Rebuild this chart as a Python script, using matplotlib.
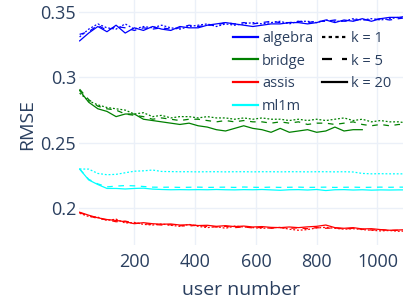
import matplotlib.pyplot as plt
from matplotlib.lines import Line2D

# user number grid (every 30 users)
users = [20, 50, 80, 110, 140, 170, 200, 230, 260, 290, 320, 350, 380, 410, 440, 470, 500, 530, 560,
         590, 620, 650, 680, 710, 740, 770, 800, 830, 860, 890, 920, 950, 980, 1010, 1040, 1070, 1100]
users_bridge20 = users[:32]  # bridge k=20 stops near 950

algebra_k1 = [0.331, 0.337, 0.341, 0.338, 0.337, 0.341, 0.337, 0.339, 0.338, 0.340, 0.338, 0.337, 0.339,
              0.340, 0.341, 0.339, 0.341, 0.340, 0.341, 0.342, 0.341, 0.342, 0.343, 0.341, 0.343, 0.343,
              0.342, 0.344, 0.343, 0.343, 0.345, 0.344, 0.345, 0.344, 0.345, 0.346, 0.345]
algebra_k5 = [0.333, 0.335, 0.340, 0.336, 0.339, 0.338, 0.336, 0.338, 0.337, 0.338, 0.337, 0.338, 0.340,
              0.339, 0.340, 0.340, 0.342, 0.341, 0.342, 0.341, 0.342, 0.343, 0.342, 0.342, 0.343, 0.342,
              0.343, 0.343, 0.344, 0.343, 0.344, 0.344, 0.344, 0.345, 0.344, 0.345, 0.346]
algebra_k20 = [0.328, 0.334, 0.339, 0.335, 0.340, 0.334, 0.338, 0.336, 0.339, 0.337, 0.336, 0.339, 0.338,
               0.338, 0.340, 0.341, 0.342, 0.341, 0.340, 0.339, 0.340, 0.341, 0.341, 0.342, 0.342, 0.341,
               0.342, 0.344, 0.342, 0.344, 0.343, 0.345, 0.343, 0.345, 0.346, 0.346, 0.347]

bridge_k1 = [0.288, 0.282, 0.279, 0.277, 0.276, 0.275, 0.272, 0.273, 0.270, 0.271, 0.269, 0.270, 0.270,
             0.269, 0.270, 0.269, 0.269, 0.268, 0.269, 0.268, 0.269, 0.268, 0.268, 0.267, 0.268, 0.267,
             0.268, 0.267, 0.268, 0.269, 0.267, 0.268, 0.266, 0.267, 0.266, 0.266, 0.265]
bridge_k5 = [0.291, 0.283, 0.278, 0.276, 0.275, 0.272, 0.271, 0.270, 0.268, 0.269, 0.268, 0.267, 0.268,
             0.268, 0.267, 0.266, 0.267, 0.266, 0.267, 0.266, 0.266, 0.265, 0.266, 0.265, 0.266, 0.264,
             0.265, 0.265, 0.264, 0.265, 0.266, 0.264, 0.263, 0.264, 0.263, 0.264, 0.264]
bridge_k20 = [0.290, 0.281, 0.276, 0.274, 0.270, 0.272, 0.272, 0.268, 0.267, 0.266, 0.265, 0.264, 0.265,
              0.263, 0.262, 0.260, 0.259, 0.261, 0.263, 0.261, 0.260, 0.258, 0.261, 0.258, 0.259, 0.260,
              0.258, 0.259, 0.262, 0.259, 0.260, 0.260]

assis_k1 = [0.1960, 0.1935, 0.1930, 0.1905, 0.1915, 0.1885, 0.1890, 0.1875, 0.1870, 0.1878, 0.1868, 0.1860,
            0.1875, 0.1860, 0.1850, 0.1858, 0.1845, 0.1862, 0.1855, 0.1850, 0.1845, 0.1848, 0.1852, 0.1838,
            0.1830, 0.1835, 0.1848, 0.1852, 0.1845, 0.1838, 0.1842, 0.1835, 0.1830, 0.1825, 0.1828, 0.1822,
            0.1825]
assis_k5 = [0.1965, 0.1940, 0.1920, 0.1910, 0.1895, 0.1900, 0.1885, 0.1880, 0.1875, 0.1870, 0.1872, 0.1865,
            0.1862, 0.1870, 0.1858, 0.1855, 0.1860, 0.1850, 0.1855, 0.1848, 0.1852, 0.1845, 0.1850, 0.1845,
            0.1848, 0.1842, 0.1850, 0.1845, 0.1848, 0.1840, 0.1845, 0.1838, 0.1832, 0.1835, 0.1828, 0.1830,
            0.1828]
assis_k20 = [0.1968, 0.1945, 0.1925, 0.1912, 0.1905, 0.1895, 0.1880, 0.1888, 0.1880, 0.1876, 0.1878, 0.1870,
             0.1872, 0.1866, 0.1868, 0.1860, 0.1865, 0.1858, 0.1862, 0.1855, 0.1858, 0.1852, 0.1850, 0.1855,
             0.1850, 0.1856, 0.1860, 0.1870, 0.1850, 0.1845, 0.1850, 0.1840, 0.1842, 0.1835, 0.1830, 0.1832,
             0.1835]

ml1m_k1 = [0.2299, 0.2298, 0.2265, 0.2255, 0.2258, 0.2270, 0.2282, 0.2285, 0.2291, 0.2280, 0.2279, 0.2278,
           0.2278, 0.2277, 0.2278, 0.2278, 0.2277, 0.2278, 0.2278, 0.2277, 0.2278, 0.2278, 0.2277, 0.2278,
           0.2278, 0.2277, 0.2278, 0.2278, 0.2277, 0.2278, 0.2276, 0.2265, 0.2262, 0.2263, 0.2262, 0.2262,
           0.2261]
ml1m_k5 = [0.2299, 0.2220, 0.2185, 0.2162, 0.2168, 0.2172, 0.2170, 0.2165, 0.2160, 0.2159, 0.2160, 0.2158,
           0.2159, 0.2160, 0.2158, 0.2159, 0.2160, 0.2158, 0.2161, 0.2159, 0.2158, 0.2160, 0.2158, 0.2159,
           0.2160, 0.2158, 0.2159, 0.2160, 0.2158, 0.2159, 0.2160, 0.2158, 0.2159, 0.2160, 0.2159, 0.2160,
           0.2160]
ml1m_k20 = [0.2299, 0.2215, 0.2180, 0.2150, 0.2150, 0.2146, 0.2150, 0.2152, 0.2145, 0.2142, 0.2140, 0.2141,
            0.2140, 0.2141, 0.2140, 0.2142, 0.2140, 0.2139, 0.2141, 0.2140, 0.2142, 0.2139, 0.2136, 0.2140,
            0.2141, 0.2138, 0.2142, 0.2134, 0.2140, 0.2141, 0.2138, 0.2140, 0.2137, 0.2139, 0.2138, 0.2139,
            0.2139]

datasets = ['algebra', 'bridge', 'assis', 'ml1m']
colors = ['blue', 'green', 'red', 'cyan']
k_labels = ['k = 1', 'k = 5', 'k = 20']
dash_styles = [(0, (1.5, 1.5)), (0, (4.5, 4.5)), '-']

series = {
    'algebra': [(users, algebra_k1), (users, algebra_k5), (users, algebra_k20)],
    'bridge': [(users, bridge_k1), (users, bridge_k5), (users_bridge20, bridge_k20)],
    'assis': [(users, assis_k1), (users, assis_k5), (users, assis_k20)],
    'ml1m': [(users, ml1m_k1), (users, ml1m_k5), (users, ml1m_k20)],
}

text_color = '#2a3f5f'
plt.rcParams['font.family'] = ['Open Sans', 'DejaVu Sans']

fig = plt.figure(figsize=(4.10, 3.01), dpi=100)
ax = fig.add_axes([79 / 410, 1 - 245 / 301, 324 / 410, 245 / 301])

for name, color in zip(datasets, colors):
    for (xs, ys), ls in zip(series[name], dash_styles):
        ax.plot(xs, ys, color=color, linestyle=ls, linewidth=0.9)

ax.set_xlim(18, 1084)
ax.set_ylim(0.1717, 0.3593)
ax.set_xticks([200, 400, 600, 800, 1000])
ax.set_yticks([0.2, 0.25, 0.3, 0.35])
ax.set_yticklabels(['0.2', '0.25', '0.3', '0.35'])
ax.grid(True, color='#ebf0f8', linewidth=1)
ax.set_axisbelow(True)
for s in ax.spines.values():
    s.set_visible(False)
ax.tick_params(length=0, labelsize=13, colors=text_color)
ax.tick_params(axis='y', pad=2)
ax.tick_params(axis='x', pad=6)
ax.set_xlabel('user number', fontsize=14, color=text_color, labelpad=7)
fig.text(27 / 410, 1 - 125 / 301, 'RMSE', rotation=90, fontsize=14, color=text_color,
         ha='center', va='center')

handles = [Line2D([], [], color=c, linewidth=1.6) for c in colors]
handles += [Line2D([], [], color='black', linestyle=ls, linewidth=1.6) for ls in dash_styles]
labels = datasets + k_labels
leg = fig.legend(handles, labels, ncol=2, loc='upper left', bbox_to_anchor=(233 / 410, 1 - 31 / 301),
                 frameon=False, fontsize=10.5, handlelength=1.7, handletextpad=0.3,
                 columnspacing=0.6, borderpad=0, borderaxespad=0, labelspacing=0.52)
for t in leg.get_texts():
    t.set_color(text_color)

fig.savefig('out.png', dpi=100)
